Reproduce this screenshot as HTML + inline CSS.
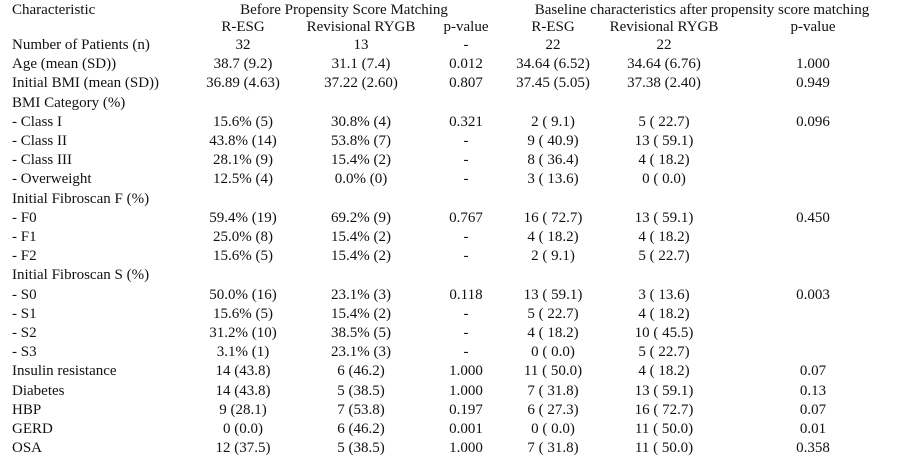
<!DOCTYPE html>
<html><head><meta charset="utf-8">
<style>
body{margin:0;background:#fff;}
#t{position:relative;width:908px;height:472px;overflow:hidden;font-family:"Liberation Serif",serif;font-size:15px;color:#111;}
.c{position:absolute;white-space:nowrap;line-height:16px;transform:translateX(-50%);}
.l{position:absolute;white-space:nowrap;line-height:16px;left:12px;}
</style></head><body>
<div id="t"></div>
<script>
const rows = [
 ["Number of Patients (n)","32","13","-","22","22",""],
 ["Age (mean (SD))","38.7 (9.2)","31.1 (7.4)","0.012","34.64 (6.52)","34.64 (6.76)","1.000"],
 ["Initial BMI (mean (SD))","36.89 (4.63)","37.22 (2.60)","0.807","37.45 (5.05)","37.38 (2.40)","0.949"],
 ["BMI Category (%)","","","","","",""],
 ["- Class I","15.6% (5)","30.8% (4)","0.321","2 ( 9.1)","5 ( 22.7)","0.096"],
 ["- Class II","43.8% (14)","53.8% (7)","-","9 ( 40.9)","13 ( 59.1)",""],
 ["- Class III","28.1% (9)","15.4% (2)","-","8 ( 36.4)","4 ( 18.2)",""],
 ["- Overweight","12.5% (4)","0.0% (0)","-","3 ( 13.6)","0 ( 0.0)",""],
 ["Initial Fibroscan F (%)","","","","","",""],
 ["- F0","59.4% (19)","69.2% (9)","0.767","16 ( 72.7)","13 ( 59.1)","0.450"],
 ["- F1","25.0% (8)","15.4% (2)","-","4 ( 18.2)","4 ( 18.2)",""],
 ["- F2","15.6% (5)","15.4% (2)","-","2 ( 9.1)","5 ( 22.7)",""],
 ["Initial Fibroscan S (%)","","","","","",""],
 ["- S0","50.0% (16)","23.1% (3)","0.118","13 ( 59.1)","3 ( 13.6)","0.003"],
 ["- S1","15.6% (5)","15.4% (2)","-","5 ( 22.7)","4 ( 18.2)",""],
 ["- S2","31.2% (10)","38.5% (5)","-","4 ( 18.2)","10 ( 45.5)",""],
 ["- S3","3.1% (1)","23.1% (3)","-","0 ( 0.0)","5 ( 22.7)",""],
 ["Insulin resistance","14 (43.8)","6 (46.2)","1.000","11 ( 50.0)","4 ( 18.2)","0.07"],
 ["Diabetes","14 (43.8)","5 (38.5)","1.000","7 ( 31.8)","13 ( 59.1)","0.13"],
 ["HBP","9 (28.1)","7 (53.8)","0.197","6 ( 27.3)","16 ( 72.7)","0.07"],
 ["GERD","0 (0.0)","6 (46.2)","0.001","0 ( 0.0)","11 ( 50.0)","0.01"],
 ["OSA","12 (37.5)","5 (38.5)","1.000","7 ( 31.8)","11 ( 50.0)","0.358"]
];
const cx=[0,243,361,466,553,664,813];
const t=document.getElementById('t');
function add(txt,x,y,cls,name){
  const d=document.createElement('div');
  d.className=cls;d.textContent=txt;
  d.style.top=(y-8)+'px';
  if(cls==='c')d.style.left=x+'px';
  
  
  t.appendChild(d);
}
add("Characteristic",0,10,'l','header-characteristic');
add("Before Propensity Score Matching",344,10,'c','header-before-matching');
add("Baseline characteristics after propensity score matching",702,10,'c','header-after-matching');
const sub=["","R-ESG","Revisional RYGB","p-value","R-ESG","Revisional RYGB","p-value"];
for(let j=1;j<7;j++)add(sub[j],cx[j],27,'c','column-header');
rows.forEach((r,i)=>{
  const y=45+19.2*i;
  add(r[0],0,y,'l','row-label');
  for(let j=1;j<7;j++) if(r[j]) add(r[j],cx[j],y,'c','table-cell');
});
</script>
</body></html>
